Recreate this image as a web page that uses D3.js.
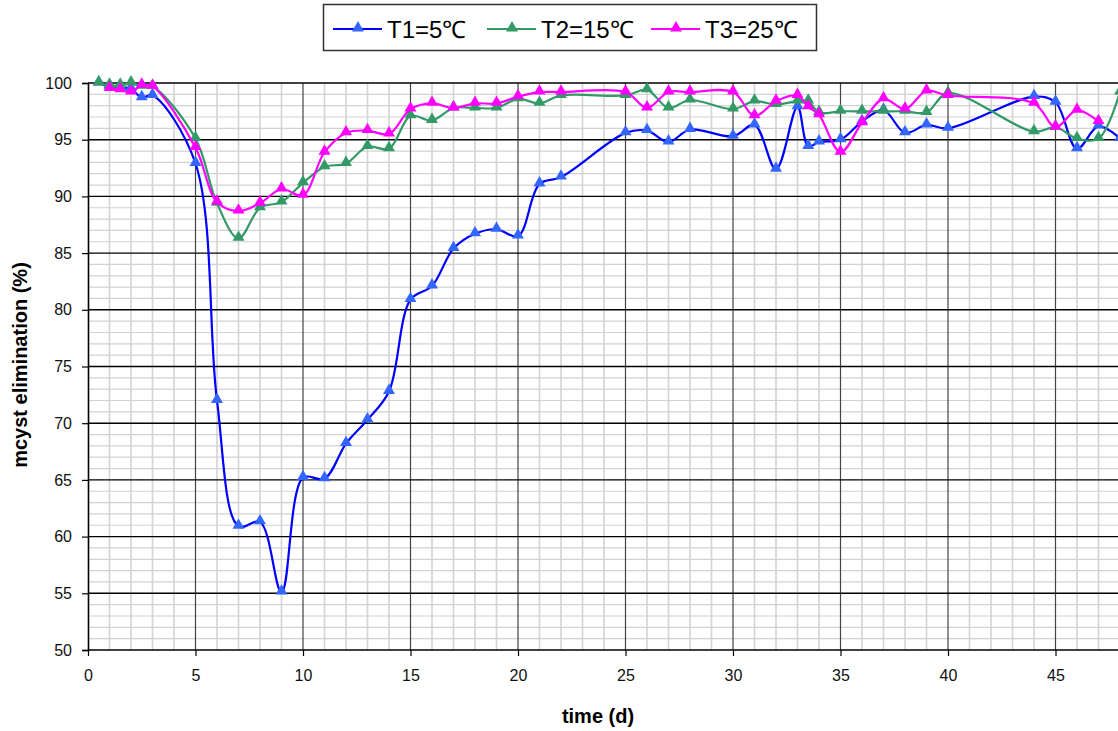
<!DOCTYPE html>
<html><head><meta charset="utf-8">
<script src="https://cdn.jsdelivr.net/npm/d3@7"></script>
<style>body{margin:0;background:#fff}svg{display:block;font-family:"Liberation Sans",Arial,sans-serif}</style>
</head><body><svg id="c" width="1118" height="731"></svg>
<script>
const seriesNames = ["T1=5℃", "T2=15℃", "T3=25℃"];
const t1Days = [0.5,1,1.5,2,2.5,3,5,6,7,8,9,10,11,12,13,14,15,16,17,18,19,20,21,22,25,26,27,28,30,31,32,33,33.5,34,35,36,37,38,39,40,44,45,46,47,48];
const t1Vals = [100,99.7,99.6,99.5,98.7,98.9,92.9,72.0,60.9,61.3,55.1,65.2,65.1,68.2,70.3,72.8,80.9,82.1,85.4,86.7,87.1,86.5,91.1,91.7,95.6,95.8,94.8,95.9,95.3,96.3,92.4,97.9,94.4,94.8,95.0,96.6,97.6,95.6,96.3,96.0,98.8,98.3,94.2,96.2,95.1];
const t2Days = [0.5,1,1.5,2,2.5,3,5,6,7,8,9,10,11,12,13,14,15,16,17,18,19,20,21,22,25,26,27,28,30,31,32,33,33.5,34,35,36,37,38,39,40,44,45,46,47,48];
const t2Vals = [100,99.8,99.8,100,99.7,99.7,95.1,89.4,86.3,89.0,89.5,91.2,92.6,92.9,94.4,94.2,97.1,96.7,97.8,97.8,97.8,98.6,98.2,98.9,98.9,99.4,97.8,98.5,97.7,98.4,98.1,98.4,98.4,97.4,97.5,97.5,97.5,97.5,97.4,99.1,95.7,96.1,95.1,95.1,99.2];
const t3Days = [1,1.5,2,2.5,3,5,6,7,8,9,10,11,12,13,14,15,16,17,18,19,20,21,22,25,26,27,28,30,31,32,33,33.5,34,35,36,37,38,39,40,44,45,46,47];
const t3Vals = [99.5,99.4,99.2,99.8,99.7,94.3,89.5,88.7,89.4,90.65,90.1,93.9,95.6,95.8,95.5,97.7,98.2,97.8,98.2,98.2,98.8,99.2,99.2,99.2,97.8,99.2,99.2,99.2,97.1,98.4,98.9,97.9,97.2,93.9,96.5,98.6,97.7,99.3,98.9,98.2,96.1,97.6,96.6];
const xTicks = [0,5,10,15,20,25,30,35,40,45];
const yTicks = [50,55,60,65,70,75,80,85,90,95,100];
const lineColors = ["#0000ff", "#339966", "#ff00ff"];
const markerColors = ["#3366ff", "#339966", "#ff00ff"];

const svg = d3.select("#c");
const x = d3.scaleLinear().domain([0, 50]).range([88, 88 + 50 * 21.5]);
const y = d3.scaleLinear().domain([50, 100]).range([650, 83]);

// grid
const g = svg.append("g");
g.selectAll(".vmin").data(d3.range(1, 51).filter(d => d % 5)).enter().append("line")
  .attr("x1", d => x(d)).attr("x2", d => x(d)).attr("y1", y(100)).attr("y2", y(50))
  .attr("stroke", "#d4d4d4").attr("stroke-width", 1.6);
g.selectAll(".hmin").data(d3.range(51, 100).filter(d => d % 5)).enter().append("line")
  .attr("x1", x(0)).attr("x2", 1118).attr("y1", d => y(d)).attr("y2", d => y(d))
  .attr("stroke", "#d2d2d2").attr("stroke-width", 1.2);
g.selectAll(".vmaj").data(d3.range(5, 51, 5)).enter().append("line")
  .attr("x1", d => x(d)).attr("x2", d => x(d)).attr("y1", y(100)).attr("y2", y(50))
  .attr("stroke", "#444").attr("stroke-width", 1.2);
g.selectAll(".hmaj").data(yTicks.filter(d => d > 50)).enter().append("line")
  .attr("x1", x(0)).attr("x2", 1118).attr("y1", d => y(d)).attr("y2", d => y(d))
  .attr("stroke", "#000").attr("stroke-width", 1.4);

// axes
const xAxis = svg.append("g").attr("transform", `translate(0,${y(50)})`)
  .call(d3.axisBottom(x).tickValues(xTicks).tickSize(6).tickPadding(14).tickFormat(d3.format("d")));
const yAxis = svg.append("g").attr("transform", `translate(${x(0)},0)`)
  .call(d3.axisLeft(y).tickValues(yTicks).tickSize(6).tickPadding(10).tickFormat(d3.format("d")));
[xAxis, yAxis].forEach(a => {
  a.select(".domain").attr("stroke", "#000").attr("stroke-width", 1.6);
  a.selectAll(".tick line").attr("stroke", "#000").attr("stroke-width", 1.2);
  a.selectAll("text").attr("font-size", 16).attr("fill", "#111").attr("font-family", "Liberation Sans, Arial, sans-serif");
});
xAxis.select(".domain").attr("d", `M${x(0)},0H1118`);

svg.append("text").attr("x", 598).attr("y", 723).attr("text-anchor", "middle")
  .attr("font-size", 20).attr("font-weight", "bold").text("time (d)");
svg.append("text").attr("transform", "translate(27,365) rotate(-90)").attr("text-anchor", "middle")
  .attr("font-size", 20).attr("font-weight", "bold").text("mcyst elimination (%)");

// series
const series = [[t1Days, t1Vals], [t2Days, t2Vals], [t3Days, t3Vals]].map((s, i) => ({
  i, pts: s[0].map((d, k) => [d, s[1][k]])
}));
const line = d3.line().x(d => x(d[0])).y(d => y(d[1])).curve(d3.curveCatmullRom.alpha(0.5));
const tri = d3.symbol().type(d3.symbolTriangle).size(62);
const plot = svg.append("g");
series.forEach(s => {
  plot.append("path").attr("d", line(s.pts)).attr("fill", "none")
    .attr("stroke", lineColors[s.i]).attr("stroke-width", 2.2);
  plot.selectAll(null).data(s.pts).enter().append("path")
    .attr("transform", d => `translate(${x(d[0])},${y(d[1]) - 1})`)
    .attr("d", tri).attr("fill", markerColors[s.i]);
});

// legend
const lg = svg.append("g");
lg.append("rect").attr("x", 323.5).attr("y", 4.5).attr("width", 493).attr("height", 46)
  .attr("fill", "#fff").attr("stroke", "#333").attr("stroke-width", 1.5);
const legendX = [333, 487, 651];
seriesNames.forEach((n, i) => {
  const lx = legendX[i];
  lg.append("line").attr("x1", lx).attr("x2", lx + 49).attr("y1", 29).attr("y2", 29)
    .attr("stroke", lineColors[i]).attr("stroke-width", 2);
  lg.append("path").attr("transform", `translate(${lx + 25},28)`).attr("d", tri).attr("fill", markerColors[i]);
  lg.append("text").attr("x", lx + 54).attr("y", 38).attr("font-size", 24).attr("fill", "#000").text(n);
});
</script></body></html>
